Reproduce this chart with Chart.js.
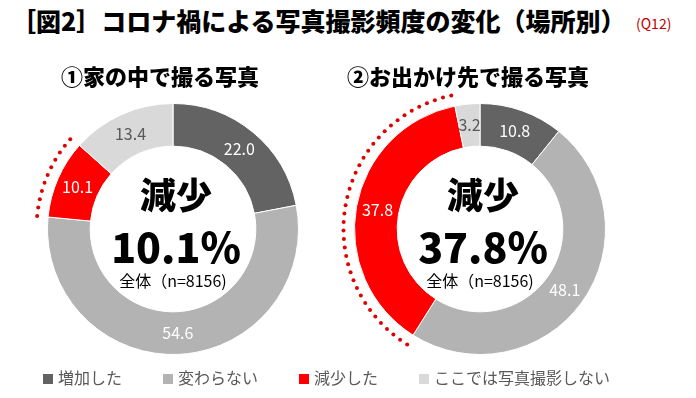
<!DOCTYPE html>
<html><head><meta charset="utf-8">
<script src="https://cdn.jsdelivr.net/npm/chart.js@4/dist/chart.umd.min.js"></script>
<style>
html,body{margin:0;padding:0;background:#fff;}
#wrap{position:relative;width:696px;height:398px;overflow:hidden;font-family:"Noto Sans CJK JP",sans-serif;background:#fff;}
.abs{position:absolute;white-space:nowrap;line-height:1;}
.ctr{transform:translate(-50%,-50%);}
canvas{position:absolute;}
#legend{position:absolute;left:43px;top:368px;display:flex;gap:41px;font-size:16px;color:#595959;line-height:18px;}
#legend span.sq{display:inline-block;width:10px;height:10px;margin-right:5px;vertical-align:0px;}
</style></head><body><div id="wrap">
<div class="abs" id="title" style="left:11px;top:8px;font-size:25px;font-weight:900;color:#000;"></div>
<div class="abs" id="qnum" style="left:636px;top:16px;font-size:14px;color:#c00000;"></div>
<canvas id="c1" width="290" height="290" style="left:28px;top:84px;"></canvas>
<canvas id="c2" width="290" height="290" style="left:335px;top:84px;"></canvas>
<div class="abs ctr" id="sub1" style="left:160px;top:75px;font-size:22px;font-weight:900;"></div>
<div class="abs ctr" id="sub2" style="left:468px;top:75px;font-size:22px;font-weight:900;"></div>
<div class="abs ctr" id="dec1" style="left:176px;top:193px;font-size:36px;font-weight:900;"></div>
<div class="abs ctr" id="pct1" style="left:176px;top:245px;font-size:41px;font-weight:900;"></div>
<div class="abs ctr" id="n1" style="left:173px;top:280px;font-size:16px;"></div>
<div class="abs ctr" id="dec2" style="left:483px;top:193px;font-size:36px;font-weight:900;"></div>
<div class="abs ctr" id="pct2" style="left:483px;top:245px;font-size:41px;font-weight:900;"></div>
<div class="abs ctr" id="n2" style="left:480px;top:280px;font-size:16px;"></div>
<div id="legend"></div>
</div>
<script>
const mainTitle = '［図2］コロナ禍による写真撮影頻度の変化（場所別）';
const questionLabel = '(Q12)';
const chartTitles = ['①家の中で撮る写真', '②お出かけ先で撮る写真'];
const categories = ['増加した', '変わらない', '減少した', 'ここでは写真撮影しない'];
const homeValues = [22.0, 54.6, 10.1, 13.4];
const outingValues = [10.8, 48.1, 37.8, 3.2];
const centerWord = '減少';
const sampleLabel = '全体（n=8156)';
const sliceColors = ['#636363', '#b3b3b3', '#ff0000', '#d9d9d9'];
const labelColors = ['#ffffff', '#ffffff', '#ffffff', '#595959'];
const highlightIndex = 2;

document.getElementById('title').textContent = mainTitle;
document.getElementById('qnum').textContent = questionLabel;
document.getElementById('sub1').textContent = chartTitles[0];
document.getElementById('sub2').textContent = chartTitles[1];
document.getElementById('dec1').textContent = centerWord;
document.getElementById('dec2').textContent = centerWord;
document.getElementById('pct1').textContent = homeValues[highlightIndex].toFixed(1) + '%';
document.getElementById('pct2').textContent = outingValues[highlightIndex].toFixed(1) + '%';
document.getElementById('n1').textContent = sampleLabel;
document.getElementById('n2').textContent = sampleLabel;

const lg = document.getElementById('legend');
categories.forEach((c, i) => {
  const d = document.createElement('div');
  d.innerHTML = '<span class="sq" style="background:' + sliceColors[i] + '"></span>' + c;
  lg.appendChild(d);
});

const ringLabels = {
  id: 'ringLabels',
  afterDatasetsDraw(chart) {
    const ctx = chart.ctx;
    const meta = chart.getDatasetMeta(0);
    ctx.save();
    ctx.font = '16px "Noto Sans CJK JP"';
    ctx.textAlign = 'center';
    ctx.textBaseline = 'middle';
    meta.data.forEach((arc, i) => {
      const p = arc.tooltipPosition();
      ctx.fillStyle = labelColors[i];
      ctx.fillText(chart.data.datasets[0].data[i].toFixed(1), p.x, p.y);
    });
    ctx.restore();
  }
};
const dottedArc = {
  id: 'dottedArc',
  afterDatasetsDraw(chart) {
    const ctx = chart.ctx;
    const arc = chart.getDatasetMeta(0).data[highlightIndex];
    const r = arc.outerRadius + 11;
    const step = 8.5 / r;
    ctx.save();
    ctx.fillStyle = '#e00000';
    for (let a = arc.startAngle; a <= arc.endAngle + 1e-6; a += step) {
      ctx.beginPath();
      ctx.arc(arc.x + Math.cos(a) * r, arc.y + Math.sin(a) * r, 2, 0, Math.PI * 2);
      ctx.fill();
    }
    ctx.restore();
  }
};

function makeChart(id, values) {
  return new Chart(document.getElementById(id), {
    type: 'doughnut',
    data: {
      labels: categories,
      datasets: [{ data: values, backgroundColor: sliceColors, borderColor: '#ffffff', borderWidth: 1 }]
    },
    options: {
      responsive: false,
      animation: false,
      devicePixelRatio: 1,
      cutout: '66%',
      layout: { padding: 19 },
      plugins: { legend: { display: false }, tooltip: { enabled: false }, title: { display: false } },
      events: []
    },
    plugins: [ringLabels, dottedArc]
  });
}
makeChart('c1', homeValues);
makeChart('c2', outingValues);
</script>
</body></html>
